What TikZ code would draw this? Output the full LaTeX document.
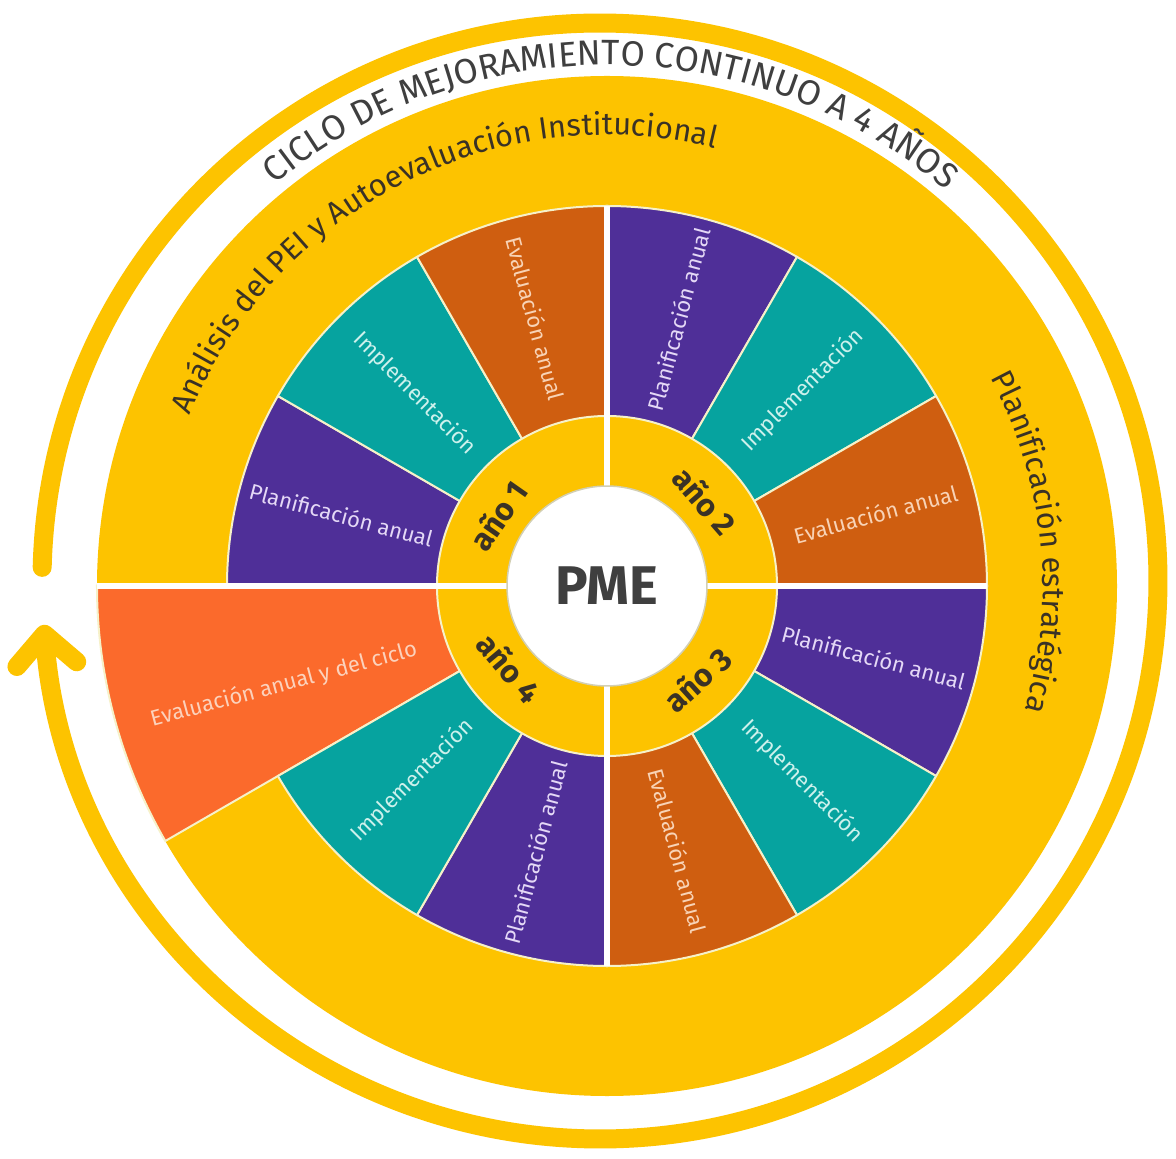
\documentclass[tikz,border=0pt]{standalone}
\usepackage{fontspec}
\setmainfont{Fira Sans}
\usepackage{tikz}
\usetikzlibrary{arrows.meta, decorations.text}

\definecolor{pmeyellow}{HTML}{FDC300}
\definecolor{planpurple}{HTML}{4F2F98}
\definecolor{implteal}{HTML}{06A39F}
\definecolor{evalorange}{HTML}{CF5E10}
\definecolor{cicloorange}{HTML}{FB6A2C}
\definecolor{plantxt}{HTML}{E4D8F6}
\definecolor{impltxt}{HTML}{CDF1EC}
\definecolor{evaltxt}{HTML}{F8D3B6}
\definecolor{ciclotxt}{HTML}{FBD2BC}
\definecolor{sepline}{HTML}{F6F1C9}
\definecolor{inkdark}{HTML}{3A3226}
\definecolor{pmegray}{HTML}{3F3F3F}

\newcommand\arcfont{\fontsize{17.5}{21}\selectfont\color{inkdark}}
\newcommand\capsfont{\fontsize{20}{24}\selectfont\color{pmegray}}

\tikzstyle{wedge} = [draw=sepline, line width=0.04cm]
\tikzstyle{plan} = [wedge, fill=planpurple]
\tikzstyle{impl} = [wedge, fill=implteal]
\tikzstyle{eval} = [wedge, fill=evalorange]
\tikzstyle{segtext} = [font=\fontsize{12.5}{14}\selectfont, inner sep=0pt]
\tikzstyle{plantext} = [segtext, text=plantxt]
\tikzstyle{impltext} = [segtext, text=impltxt]
\tikzstyle{evaltext} = [segtext, text=evaltxt]
\tikzstyle{year} = [font=\bfseries\fontsize{18}{20}\selectfont, text=inkdark, inner sep=0pt]
\tikzstyle{divider} = [draw=white, line width=0.12cm]
\tikzstyle{cyclering} = [draw=pmeyellow, line width=0.38cm, line cap=round, -{Straight Barb[length=0.6cm, width=1.2cm, round]}]

\begin{document}
\begin{tikzpicture}[x=0.02cm, y=0.02cm]
\useasboundingbox (-607,-573) rectangle (569,586);
\fill[white] (-607,-573) rectangle (569,586);
% anillo exterior con flecha
\draw[cyclering] ([shift={(-7,5)}]178.6:558) arc[start angle=178.6, end angle=-175.5, radius=558];
% disco amarillo
\fill[pmeyellow] (0,0) circle[radius=510];
% segmentos
\path[wedge, fill=cicloorange] (0,0) -- (180:510) arc[start angle=180, end angle=210, radius=510] -- cycle;
\path[plan] (0,0) -- (150:380) arc[start angle=150, end angle=180, radius=380] -- cycle;
\path[impl] (0,0) -- (120:380) arc[start angle=120, end angle=150, radius=380] -- cycle;
\path[eval] (0,0) -- (90:380) arc[start angle=90, end angle=120, radius=380] -- cycle;
\path[plan] (0,0) -- (60:380) arc[start angle=60, end angle=90, radius=380] -- cycle;
\path[impl] (0,0) -- (30:380) arc[start angle=30, end angle=60, radius=380] -- cycle;
\path[eval] (0,0) -- (0:380) arc[start angle=0, end angle=30, radius=380] -- cycle;
\path[plan] (0,0) -- (-30:380) arc[start angle=-30, end angle=0, radius=380] -- cycle;
\path[impl] (0,0) -- (-60:380) arc[start angle=-60, end angle=-30, radius=380] -- cycle;
\path[eval] (0,0) -- (-90:380) arc[start angle=-90, end angle=-60, radius=380] -- cycle;
\path[plan] (0,0) -- (-120:380) arc[start angle=-120, end angle=-90, radius=380] -- cycle;
\path[impl] (0,0) -- (-150:380) arc[start angle=-150, end angle=-120, radius=380] -- cycle;
% anillo de los años
\path[wedge, fill=pmeyellow] (0,0) circle[radius=170];
\draw[divider] (0,380) -- (0,-380);
\draw[divider] (-510,0) -- (380,0);
\node (pme) [circle, minimum size=4cm, draw=sepline!70!gray, line width=0.03cm, fill=white, font=\bfseries\fontsize{31}{34}\selectfont, text=pmegray] at (0,0) {PME};

\node (anio1) [year, rotate=55] at (147:130) {año 1};
\node (anio2) [year, rotate=-49] at (41:130) {año 2};
\node (anio3) [year, rotate=42] at (-46:130) {año 3};
\node (anio4) [year, rotate=-50] at (-140:127) {año 4};

\node (plan1) [plantext, rotate=-15] at (165:275) {Planificación anual};
\node (impl1) [impltext, rotate=-45] at (135:272) {Implementación};
\node (eval1) [evaltext, rotate=-75] at (105:277) {Evaluación anual};
\node (plan2) [plantext, rotate=75] at (75:276) {Planificación anual};
\node (impl2) [impltext, rotate=45] at (45:277) {Implementación};
\node (eval2) [evaltext, rotate=15] at (15:278) {Evaluación anual};
\node (plan3) [plantext, rotate=-15] at (-15:276) {Planificación anual};
\node (impl3) [impltext, rotate=-45] at (-45:276) {Implementación};
\node (eval3) [evaltext, rotate=-75] at (-75:274) {Evaluación anual};
\node (plan4) [plantext, rotate=75] at (-105:276) {Planificación anual};
\node (impl4) [impltext, rotate=45] at (-135:275) {Implementación};
\node (ciclo4) [segtext, text=ciclotxt, rotate=15] at (-163:338) {Evaluación anual y del ciclo};

% textos curvos
\path[decorate, decoration={text along path, text align=center, text={|\capsfont|CICLO DE MEJORAMIENTO CONTINUO A 4 AÑOS}}] (138:521) arc[start angle=138, end angle=41, radius=521];
\path[decorate, decoration={text along path, text align=center, text={|\arcfont|Análisis del PEI y Autoevaluación Institucional}}] (160:451) arc[start angle=160, end angle=74, radius=451];
\path[decorate, decoration={text along path, text align=center, text={|\arcfont|Planificación estratégica}}] (40:436) arc[start angle=40, end angle=-28, radius=436];
\end{tikzpicture}
\end{document}
